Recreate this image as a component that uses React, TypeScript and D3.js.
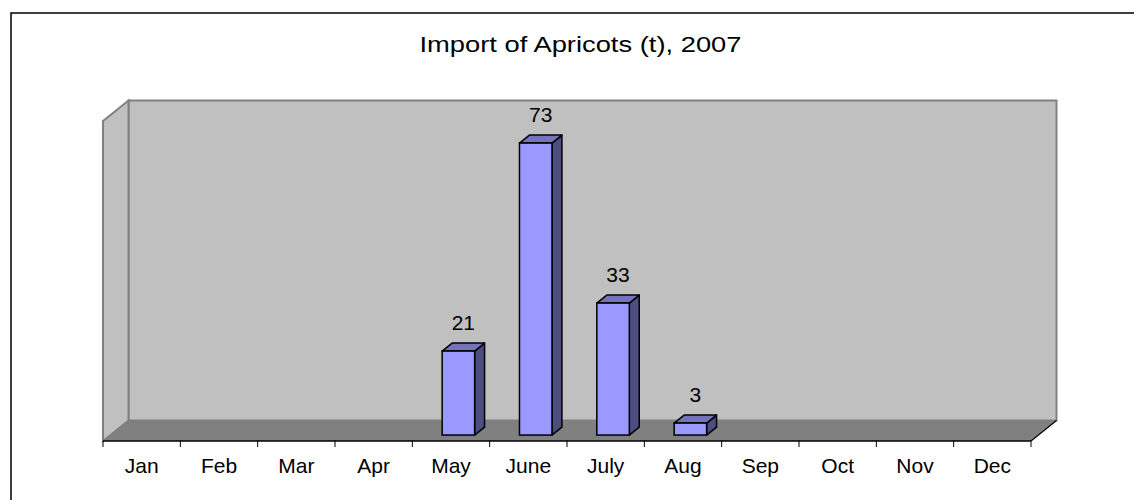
import React from "react";
import * as d3 from "d3";

const months = ["Jan", "Feb", "Mar", "Apr", "May", "June", "July", "Aug", "Sep", "Oct", "Nov", "Dec"];
const values = [0, 0, 0, 0, 21, 73, 33, 3, 0, 0, 0, 0];
const title = "Import of Apricots (t), 2007";
const valueMax = 80;

const W = 1134;
const H = 500;

export default function App() {
  // front plane geometry
  const x0 = 103, x1 = 1031;
  const yBase = 441;
  const yTopFront = 121;
  const depth = { dx: 25.5, dy: -20.5 };
  const fFront = 0.29, fBack = 0.68;

  const x = d3.scaleBand<string>().domain(months).range([x0, x1]).paddingInner(0).paddingOuter(0);
  const y = d3.scaleLinear().domain([0, valueMax]).range([yBase, yTopFront]);

  const bw = x.bandwidth();
  const barW = bw * 0.42;

  const backL = x0 + depth.dx, backR = x1 + depth.dx;
  const backB = yBase + depth.dy, backT = yTopFront + depth.dy;

  const pts = (arr: [number, number][]) => arr.map((p) => p.join(",")).join(" ");

  const font = "'Liberation Sans', Arial, sans-serif";

  return (
    <svg width={W} height={H} style={{ position: "absolute", left: 0, top: 0, background: "#fff" }}>
      <rect x={11} y={13} width={1200} height={600} fill="#fff" stroke="#000" strokeWidth={1.5} />
      <text x={(backL + backR) / 2 - 12} y={52} textAnchor="middle" fontFamily={font} fontSize={22} textLength={322} lengthAdjust="spacingAndGlyphs" fill="#000">{title}</text>

      {/* back wall */}
      <rect x={backL} y={backT} width={backR - backL} height={backB - backT} fill="#C0C0C0" stroke="#808080" strokeWidth={2} />
      {/* left side wall */}
      <polygon points={pts([[x0, yTopFront], [backL, backT], [backL, backB], [x0, yBase]])} fill="#C0C0C0" stroke="#808080" strokeWidth={2} />
      {/* floor */}
      <polygon points={pts([[x0, yBase], [backL, backB], [backR, backB], [x1, yBase]])} fill="#808080" stroke="none" />
      <line x1={x1} y1={yBase} x2={backR} y2={backB} stroke="#000" strokeWidth={1.2} />
      <line x1={x0} y1={yBase} x2={x1} y2={yBase} stroke="#000" strokeWidth={1.5} />
      {/* ticks */}
      {d3.range(months.length + 1).map((i) => {
        const tx = x0 + i * bw;
        return <line key={"t" + i} x1={tx} x2={tx} y1={yBase} y2={yBase + 6} stroke="#000" strokeWidth={1} />;
      })}
      {months.map((m) => (
        <text key={m} x={(x(m) as number) + bw / 2} y={473} textAnchor="middle" fontFamily={font} fontSize={21} fill="#000">{m}</text>
      ))}

      {/* bars */}
      {months.map((m, i) => {
        const v = values[i];
        if (!v) return null;
        const cx = (x(m) as number) + bw / 2;
        const fdx = depth.dx * fFront, fdy = depth.dy * fFront;
        const bdx = depth.dx * fBack, bdy = depth.dy * fBack;
        const L = cx - barW / 2 + fdx, R = cx + barW / 2 + fdx;
        const T = y(v) + fdy, B = y(0) + fdy;
        const ddx = bdx - fdx, ddy = bdy - fdy;
        const sw = 1.5;
        return (
          <g key={m}>
            <polygon points={pts([[R, T], [R + ddx, T + ddy], [R + ddx, B + ddy], [R, B]])} fill="#4D4D80" stroke="#000" strokeWidth={sw} strokeLinejoin="round" />
            <polygon points={pts([[L, T], [L + ddx, T + ddy], [R + ddx, T + ddy], [R, T]])} fill="#7373C0" stroke="#000" strokeWidth={sw} strokeLinejoin="round" />
            <rect x={L} y={T} width={R - L} height={B - T} fill="#9999FF" stroke="#000" strokeWidth={sw} />
            <text x={(L + R + ddx) / 2} y={T - 29} textAnchor="middle" dominantBaseline="central" fontFamily={font} fontSize={21} fill="#000">{v}</text>
          </g>
        );
      })}
    </svg>
  );
}
